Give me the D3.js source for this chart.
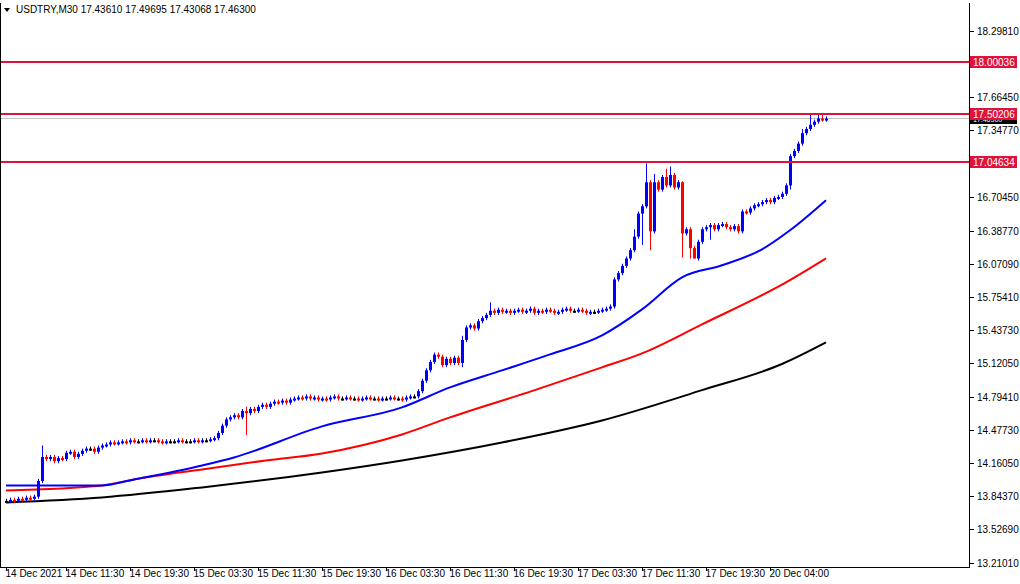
<!DOCTYPE html>
<html><head><meta charset="utf-8">
<script src="https://cdn.jsdelivr.net/npm/d3@7"></script>
<style>
  body { margin: 0; background: #fff; }
  text { font-family: "Liberation Sans", Arial, sans-serif; font-size: 10px; }
</style></head>
<body><svg id="chart" width="1020" height="584"></svg>
<script>
// USDTRY M30 closes, one per bar (open = previous close)
const closes = [
  13.80,13.81,13.80,13.82,13.81,13.83,13.82,13.84,
  13.99,14.22,
  14.20,14.22,14.18,14.21,14.20,14.26,
  14.27,14.22,14.25,14.28,14.30,14.30,14.27,
  14.31,14.33,14.34,14.36,14.35,
  14.36,14.37,14.36,14.38,14.37,14.37,14.38,14.37,14.38,14.38,14.37,14.36,
  14.37,14.37,14.37,14.38,14.37,14.37,14.37,14.38,14.37,14.38,14.38,14.39,
  14.40,14.45,14.52,14.58,14.60,14.62,
  14.60,14.66,14.64,14.68,14.66,14.70,14.72,14.70,14.73,14.75,14.74,14.76,14.74,14.77,14.78,
  14.79,14.78,14.80,14.78,14.79,14.77,14.78,14.77,14.79,14.80,14.78,14.78,14.79,14.78,14.78,
  14.77,14.78,14.79,14.78,14.78,14.77,14.78,14.78,14.79,14.78,14.78,14.77,14.79,14.80,14.80,
  14.85,14.95,15.05,15.13,
  15.20,15.18,15.10,15.16,15.12,15.17,15.12,
  15.34,
  15.46,15.48,15.45,15.52,15.55,15.58,
  15.62,15.60,15.63,15.61,15.62,15.60,15.62,15.63,15.61,15.62,15.64,15.60,15.62,15.61,15.63,
  15.62,15.60,15.61,15.63,15.64,15.62,15.62,15.63,15.62,15.60,15.61,15.61,15.62,15.63,15.64,15.66,
  15.92,
  15.98,16.05,16.12,16.20,16.33,
  16.55,16.62,16.85,
  16.38,16.85,
  16.78,16.90,16.82,16.92,16.80,16.85,
  16.36,
  16.40,16.22,16.12,16.28,16.40,16.42,
  16.44,16.40,16.44,16.45,16.42,16.40,16.43,16.38,
  16.57,16.56,16.60,16.63,16.64,16.66,16.68,
  16.66,16.70,16.71,16.74,
  16.82,17.10,17.15,
  17.22,17.32,
  17.36,17.40,17.43,17.46,17.45,17.46
];
const firstOpen = 13.80;
// notable wicks [bar, price]
const highWicks = [[9,14.33],[60,14.70],[114,15.38],[121,15.70],[157,16.40],[160,17.03],[162,16.93],
  [165,16.98],[166,17.00],[169,16.86],[199,17.36],[201,17.51],[203,17.50],[204,17.50]];
const lowWicks = [[60,14.43],[114,15.08],[159,16.25],[161,16.20],[169,16.13],[171,16.12],[172,16.12],
  [176,16.30],[196,16.78]];

// moving averages [bar, value]
const maBlue = [[0,13.948],[24,13.948],[32,14.005],[49,14.139],[57,14.216],[79,14.513],[99,14.695],
  [111,14.886],[124,15.049],[136,15.202],[149,15.384],[159,15.633],[169,15.940],[179,16.055],
  [189,16.208],[196,16.390],[205,16.678]];
const maRed = [[0,13.900],[24,13.948],[32,14.005],[49,14.101],[65,14.187],[79,14.254],[99,14.436],
  [111,14.599],[132,14.858],[149,15.078],[159,15.212],[174,15.490],[195,15.892],[205,16.122]];
const maBlack = [[0,13.785],[24,13.833],[49,13.929],[79,14.072],[99,14.187],[124,14.359],
  [149,14.570],[174,14.860],[194,15.110],[205,15.317]];

const yTicks = [13.21010,13.52690,13.84370,14.16050,14.47730,14.79410,15.12050,15.43730,
  15.75410,16.07090,16.38770,16.70450,17.34770,17.66450,18.29810];
const levels = [18.00036,17.50206,17.04634];
const bid = 17.46300;
const xLabels = [[0,"14 Dec 2021"],[15,"14 Dec 11:30"],[31,"14 Dec 19:30"],[47,"15 Dec 03:30"],
  [63,"15 Dec 11:30"],[79,"15 Dec 19:30"],[95,"16 Dec 03:30"],[111,"16 Dec 11:30"],
  [127,"16 Dec 19:30"],[143,"17 Dec 03:30"],[159,"17 Dec 11:30"],[175,"17 Dec 19:30"],
  [191,"20 Dec 04:00"]];

const svg = d3.select("#chart");
const x = d3.scaleLinear().domain([0, 205]).range([6, 826]);
const y = d3.scaleLinear().domain([13.2101, 18.2981]).range([562.5, 31]);
const hiMap = new Map(highWicks), loMap = new Map(lowWicks);

const bars = closes.map((c, i) => {
  const o = i === 0 ? firstOpen : closes[i - 1];
  return { i, o, c,
    h: hiMap.get(i) ?? Math.max(o, c) + 0.02,
    l: loMap.get(i) ?? Math.min(o, c) - 0.02 };
});

// frame
svg.append("line").attr("x1", 0.5).attr("x2", 0.5).attr("y1", 3).attr("y2", 567).attr("stroke", "#000");
svg.append("line").attr("x1", 0).attr("x2", 970).attr("y1", 567.5).attr("y2", 567.5).attr("stroke", "#000");
svg.append("line").attr("x1", 969.5).attr("x2", 969.5).attr("y1", 3).attr("y2", 567).attr("stroke", "#000");

// bid line
svg.append("line").attr("x1", 1).attr("x2", 969).attr("y1", Math.round(y(bid)) + 0.5).attr("y2", Math.round(y(bid)) + 0.5)
  .attr("stroke", "#c0c0c0");

// MAs
const line = d3.line().x(d => x(d[0])).y(d => y(d[1])).curve(d3.curveMonotoneX);
[[maBlack, "#000"], [maRed, "#ff0000"], [maBlue, "#0000ff"]].forEach(([d, col]) => {
  svg.append("path").attr("d", line(d)).attr("fill", "none").attr("stroke", col).attr("stroke-width", 2);
});

// candles
const g = svg.append("g");
bars.forEach(b => {
  const col = b.c > b.o ? "#0000ff" : b.c < b.o ? "#ff0000" : "#000";
  const cx = Math.round(x(b.i)) + 0.5;
  g.append("line").attr("x1", cx).attr("x2", cx).attr("y1", y(b.h)).attr("y2", y(b.l)).attr("stroke", col);
  const top = y(Math.max(b.o, b.c)), bot = y(Math.min(b.o, b.c));
  g.append("rect").attr("x", cx - 1.5).attr("width", 3).attr("y", top).attr("height", Math.max(2, bot - top)).attr("fill", col);
});

// levels
levels.forEach(v => {
  const yy = Math.round(y(v));
  svg.append("line").attr("x1", 1).attr("x2", 969).attr("y1", yy).attr("y2", yy).attr("stroke", "#dc143c").attr("stroke-width", 2);
});

// y axis
yTicks.forEach(v => {
  const yy = Math.round(y(v)) + 0.5;
  svg.append("line").attr("x1", 970).attr("x2", 974).attr("y1", yy).attr("y2", yy).attr("stroke", "#000");
  svg.append("text").attr("x", 977).attr("y", yy + 3.5).text(v.toFixed(5));
});
[[bid, "#000"]].concat(levels.map(v => [v, "#dc143c"])).forEach(([v, col]) => {
  const yy = Math.round(y(v));
  svg.append("rect").attr("x", 970).attr("y", yy - 6).attr("width", 47).attr("height", 12).attr("fill", col);
  svg.append("text").attr("x", 973).attr("y", yy + 4).attr("fill", "#fff")
    .style("font-size", v === bid ? "7px" : null).text(v.toFixed(5));
});

// x axis
xLabels.forEach(([i, t]) => {
  const xx = Math.round(x(i)) + 0.5;
  svg.append("line").attr("x1", xx).attr("x2", xx).attr("y1", 567).attr("y2", 571).attr("stroke", "#000");
  svg.append("text").attr("x", xx - 1).attr("y", 577).text(t);
});

// header
svg.append("path").attr("d", "M4,8 L10,8 L7,12 Z").attr("fill", "#000");
svg.append("text").attr("x", 16).attr("y", 13).text("USDTRY,M30  17.43610 17.49695 17.43068 17.46300");
</script></body></html>
